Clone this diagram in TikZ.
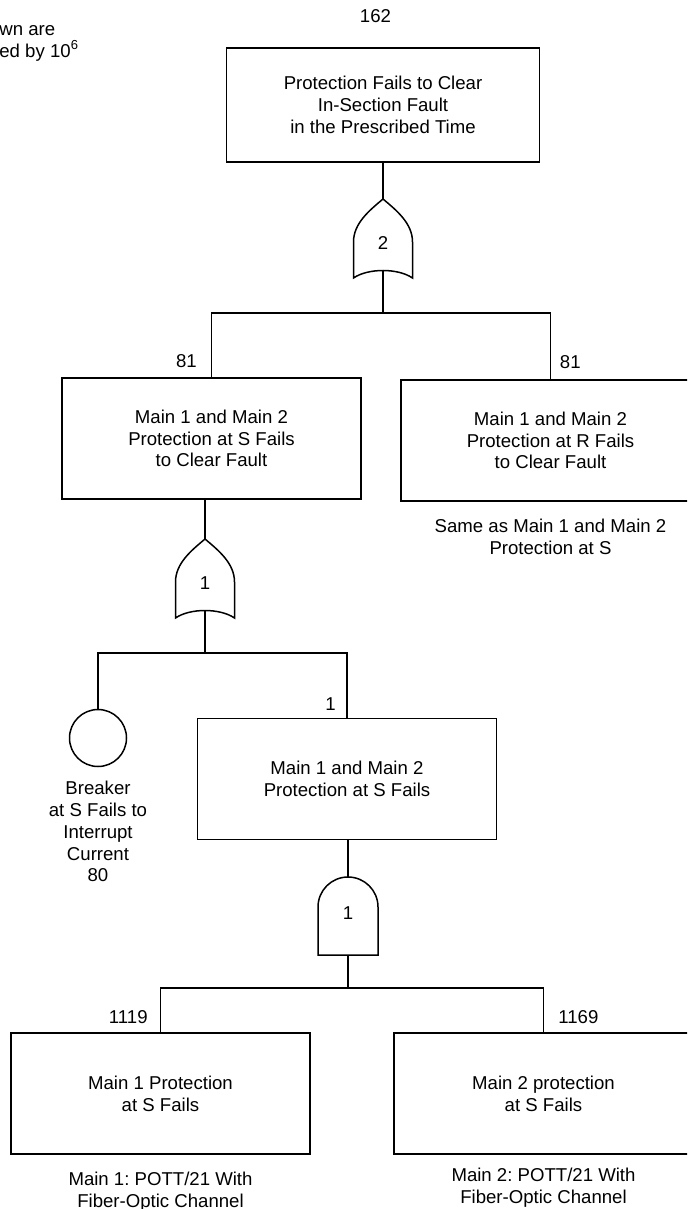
\documentclass[tikz,border=0pt]{standalone}
\usepackage{fontspec}
\setmainfont{Liberation Sans}
\frenchspacing
\usetikzlibrary{positioning,calc}

\tikzset{
  every node/.style={font=\fontsize{9.3pt}{10.9pt}\selectfont},
  ftline/.style={line width=0.75pt, black},
  event/.style={draw, ftline, rectangle, minimum width=149.5pt,
                minimum height=60.5pt, align=center, inner sep=0pt},
  topevent/.style={event, minimum width=156.5pt, minimum height=57pt},
  basic/.style={draw, ftline, circle, minimum size=28.5pt, inner sep=0pt},
  prob/.style={inner sep=0pt},
  note/.style={align=center, inner sep=0pt},
  gatelabel/.style={inner sep=0pt},
  orgate/.pic={
    \draw[ftline] (-29.5,43) .. controls (-29.5,24) and (-13,11) .. (0,0)
      .. controls (13,11) and (29.5,24) .. (29.5,43) -- (29.5,79)
      .. controls (15,69) and (-15,69) .. (-29.5,79) -- cycle;
    \coordinate (-in) at (0,0);
    \coordinate (-out) at (0,71.5);
    \node[gatelabel] (-lbl) at (0,44) {#1};
  },
  andgate/.pic={
    \draw[ftline] (-30,78) -- (-30,30) .. controls (-30,13.43) and (-16.57,0) .. (0,0)
      .. controls (16.57,0) and (30,13.43) .. (30,30) -- (30,78) -- cycle;
    \coordinate (-in) at (0,0);
    \coordinate (-out) at (0,78);
    \node[gatelabel] (-lbl) at (0,36) {#1};
  },
}

\begin{document}
\begin{tikzpicture}[x=0.5pt, y=-0.5pt]
    \useasboundingbox (0,0) rectangle (687,1209);
    \clip (0,0) rectangle (687,1209);
    % --- note, cut at the left edge ---
    \node[note, align=left, anchor=north west] (unitnote) at (-1,25)
      {wn are\\ed by 10\textsuperscript{6}};
    % --- top event ---
    \node[topevent] (top) at (383,105)
      {Protection Fails to Clear\\In-Section Fault\\in the Prescribed Time};
    \node[prob, above=12.1pt of top.north, xshift=-3.75pt] (ptop) {162};
    \pic (g2) at (383,199) {orgate=2};
    \draw[ftline] (top) -- (g2-in);
    % --- S and R branches ---
    \node[event] (mainS) at (211.5,438.5)
      {Main 1 and Main 2\\Protection at S Fails\\to Clear Fault};
    \node[event] (mainR) at (550.5,440.5)
      {Main 1 and Main 2\\Protection at R Fails\\to Clear Fault};
    \node[prob, above left=4.6pt and 7.2pt of mainS.north] (pmainS) {81};
    \node[prob, above right=5.1pt and 4.5pt of mainR.north] (pmainR) {81};
    \node[note, below=8.5pt of mainR] (mainRcap)
      {Same as Main 1 and Main 2\\Protection at S};
    \coordinate (bar2) at (383,313);
    \draw[ftline] (g2-out) -- (bar2);
    \draw[ftline] (mainS.north) |- (bar2) -| (mainR.north);
    % --- breaker or protection at S ---
    \pic (g1) at (205,539) {orgate=1};
    \draw[ftline] (mainS.south -| g1-in) -- (g1-in);
    \node[basic] (brk) at (98,738) {};
    \node[note, below=6.75pt of brk] (brkcap)
      {Breaker\\at S Fails to\\Interrupt\\Current\\80};
    \node[event] (bothS) at (347,779) {Main 1 and Main 2\\Protection at S Fails};
    \node[prob, above left=3.2pt and 5.5pt of bothS.north] (pbothS) {1};
    \coordinate (bar1) at (205,653);
    \draw[ftline] (g1-out) -- (bar1);
    \draw[ftline] (brk.north) |- (bar1) -| (bothS.north);
    % --- main 1 and main 2 at S ---
    \pic (ga) at (348,877) {andgate=1};
    \draw[ftline] (bothS.south -| ga-in) -- (ga-in);
    \node[event] (m1) at (160.5,1093.5) {Main 1 Protection\\at S Fails};
    \node[event] (m2) at (543.5,1093.5) {Main 2 protection\\at S Fails};
    \node[prob, above left=4.2pt and 6.25pt of m1.north] (pm1) {1119};
    \node[prob, above right=4.2pt and 7.25pt of m2.north] (pm2) {1169};
    \node[note, below=8.5pt of m1] (m1cap) {Main 1: POTT/21 With\\Fiber-Optic Channel};
    \node[note, below=6.5pt of m2] (m2cap) {Main 2: POTT/21 With\\Fiber-Optic Channel};
    \coordinate (bar3) at (348,988);
    \draw[ftline] (ga-out) -- (bar3);
    \draw[ftline] (m1.north) |- (bar3) -| (m2.north);
  \end{tikzpicture}
\end{document}
